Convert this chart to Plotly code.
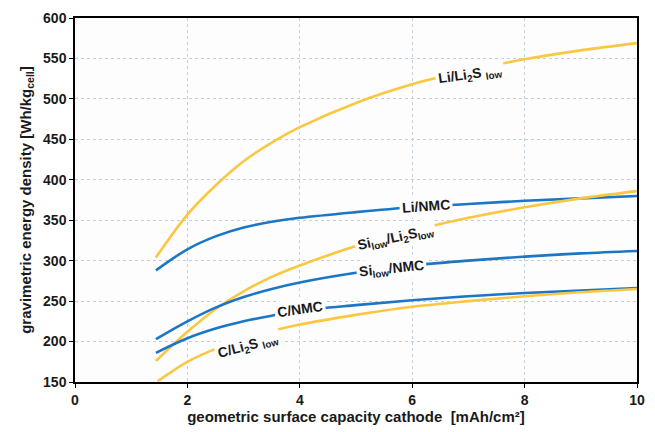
import plotly.graph_objects as go

# ---- data ----
x_common = [2.0, 2.5, 3.0, 3.5, 4.0, 5.0, 6.0, 7.0, 8.0, 9.0, 10.0]

x_li_li2s = [1.44] + x_common
y_li_li2s = [304, 357, 393, 423, 446, 465, 495, 518, 535, 549, 560, 569]

x_li_nmc = [1.44] + x_common
y_li_nmc = [288, 314, 330, 341, 348, 353, 360, 366, 370, 374, 377, 380]

x_si_li2s = [1.44] + x_common
y_si_li2s = [176, 212, 240, 262, 280, 294, 318, 337, 353, 366, 377, 386]

x_si_nmc = [1.44] + x_common
y_si_nmc = [203, 225, 242, 255, 265, 273, 285, 294, 300, 305, 309, 312]

x_c_nmc = [1.44] + x_common
y_c_nmc = [186, 204, 216, 225, 232, 238, 245, 251, 256, 260, 263, 266]

x_c_li2s = [1.47] + x_common
y_c_li2s = [151, 175, 191, 203, 213, 221, 233, 243, 250, 256, 261, 265]

series_names = ["Li/Li2S low", "Li/NMC", "Si low/Li2S low", "Si low/NMC", "C/NMC", "C/Li2S low"]

label_texts = ["Li/Li<sub>2</sub>S <sub>low</sub>", "Li/NMC",
               "Si<sub>low</sub>/Li<sub>2</sub>S<sub>low</sub>",
               "Si<sub>low</sub>/NMC", "C/NMC", "C/Li<sub>2</sub>S <sub>low</sub>"]
label_x = [7.02, 6.25, 5.71, 5.64, 4.01, 3.08]
label_y = [530, 367, 328, 290, 240, 195]
label_angle = [-8, -4, -12, -6, -8, -15]

x_ticks = [0, 2, 4, 6, 8, 10]
y_ticks = [150, 200, 250, 300, 350, 400, 450, 500, 550, 600]

YELLOW = "#FBC741"
BLUE = "#1C76C6"
BG = "#fdfdfe"

xs = [x_li_li2s, x_li_nmc, x_si_li2s, x_si_nmc, x_c_nmc, x_c_li2s]
ys = [y_li_li2s, y_li_nmc, y_si_li2s, y_si_nmc, y_c_nmc, y_c_li2s]
cols = [YELLOW, BLUE, YELLOW, BLUE, BLUE, YELLOW]

fig = go.Figure()
for x, y, c, n in zip(xs, ys, cols, series_names):
    fig.add_trace(go.Scatter(x=x, y=y, mode="lines", name=n,
                             line=dict(color=c, width=2.6, shape="spline", smoothing=1.0)))

for t, lx, ly, a in zip(label_texts, label_x, label_y, label_angle):
    fig.add_annotation(x=lx, y=ly, text=t, showarrow=False, textangle=a,
                       font=dict(family="Liberation Sans, Arial", size=14, color="#1a1a1a", weight="bold"),
                       bgcolor=BG, borderpad=2)

axis_font = dict(family="Liberation Sans, Arial", size=14, color="#1a1a1a", weight="bold")
title_font = dict(family="Liberation Sans, Arial", size=15, color="#1a1a1a", weight="bold")
fig.update_layout(
    width=655, height=432,
    margin=dict(l=75, r=10, t=16, b=46),
    paper_bgcolor="white", plot_bgcolor=BG,
    showlegend=False,
    font=dict(family="Liberation Sans, Arial"),
    xaxis=dict(range=[0, 10], tickvals=x_ticks, ticktext=[str(v) for v in x_ticks],
               showgrid=True, gridcolor="#c3cfd9", griddash="dot", gridwidth=1,
               showline=True, linecolor="black", linewidth=1.5, mirror=True,
               ticks="outside", ticklen=4, tickcolor="black", zeroline=False,
               tickfont=axis_font,
               title=dict(text="geometric surface capacity cathode  [mAh/cm²]",
                          font=title_font, standoff=4)),
    yaxis=dict(range=[150, 600], tickvals=y_ticks, ticktext=[str(v) for v in y_ticks],
               showgrid=True, gridcolor="#c3cfd9", griddash="dot", gridwidth=1,
               showline=True, linecolor="black", linewidth=1.5, mirror=True,
               ticks="outside", ticklen=4, tickcolor="black", zeroline=False,
               tickfont=axis_font,
               title=dict(text="gravimetric energy density [Wh/kg<sub>cell</sub>]",
                          font=title_font, standoff=8)),
)

fig.write_html("out.html")
